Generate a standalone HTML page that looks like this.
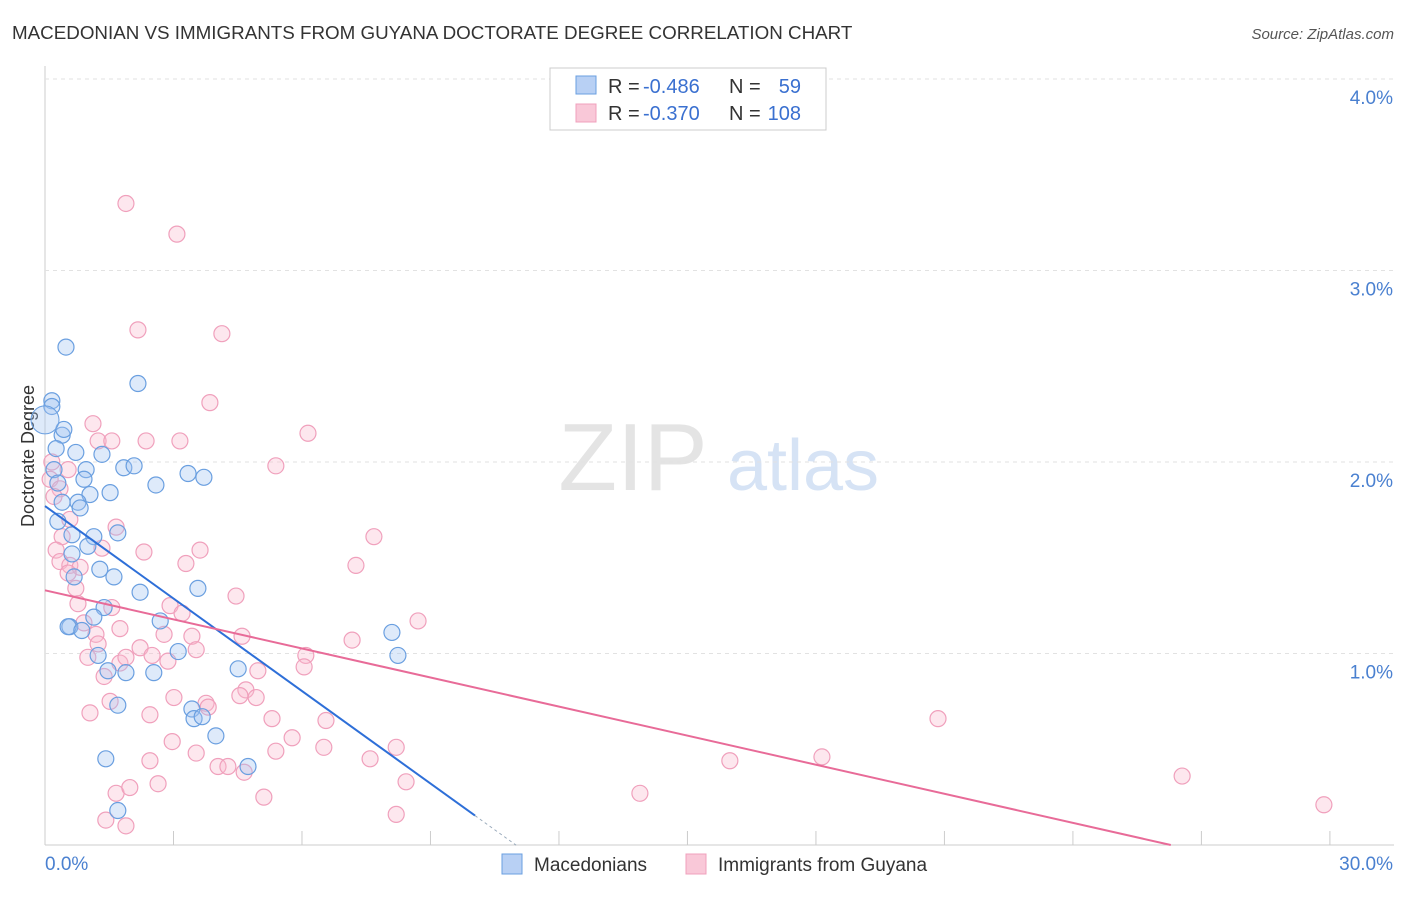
<!DOCTYPE html>
<html><head><meta charset="utf-8"><style>
body{margin:0;background:#fff;font-family:"Liberation Sans",sans-serif;}
svg text{font-family:"Liberation Sans",sans-serif;}
</style></head><body>
<svg id="c" width="1406" height="892" xmlns="http://www.w3.org/2000/svg">
<text x="12" y="39" font-size="18.8" fill="#333">MACEDONIAN VS IMMIGRANTS FROM GUYANA DOCTORATE DEGREE CORRELATION CHART</text>
<text x="1394" y="39" font-size="15" fill="#555" font-style="italic" text-anchor="end">Source: ZipAtlas.com</text>
<text x="34" y="456" font-size="18" fill="#333" text-anchor="middle" transform="rotate(-90 34 456)">Doctorate Degree</text>
<g><text x="633" y="490" font-size="96" fill="#e4e4e4" font-family="Liberation Serif" text-anchor="middle">ZIP</text><text x="803" y="490" font-size="72" fill="#d6e3f5" text-anchor="middle">atlas</text></g>
<g id="grid"></g><g id="marks"></g>
<g>
<rect x="550" y="68" width="276" height="62" fill="#fff" stroke="#ccc"/>
<rect x="576" y="76" width="20" height="18" fill="#b8d0f4" stroke="#6a9fe0"/>
<rect x="576" y="104" width="20" height="18" fill="#f9c8d8" stroke="#f0a0bc"/>
<text x="608" y="93" font-size="20" fill="#333">R =</text>
<text x="643" y="93" font-size="20" fill="#3a70d0">-0.486</text>
<text x="729" y="93" font-size="20" fill="#333">N =</text>
<text x="801" y="93" font-size="20" fill="#3a70d0" text-anchor="end">59</text>
<text x="608" y="120" font-size="20" fill="#333">R =</text>
<text x="643" y="120" font-size="20" fill="#3a70d0">-0.370</text>
<text x="729" y="120" font-size="20" fill="#333">N =</text>
<text x="801" y="120" font-size="20" fill="#3a70d0" text-anchor="end">108</text>
</g>
<g>
<rect x="502" y="854" width="20" height="20" fill="#b8d0f4" stroke="#6a9fe0"/>
<text x="534" y="871" font-size="19" fill="#333">Macedonians</text>
<rect x="686" y="854" width="20" height="20" fill="#f9c8d8" stroke="#f0a0bc"/>
<text x="718" y="871" font-size="19" fill="#333">Immigrants from Guyana</text>
</g>
</svg>
<script>
const yTicks=[1,2,3,4];
const yTickLabels=["1.0%","2.0%","3.0%","4.0%"];
const blueX=[0.49,0.16,0.16,0.40,0.44,0.26,0.21,0.30,0.40,0.72,1.33,0.96,0.91,1.05,0.77,0.82,1.52,1.84,2.08,2.59,3.34,3.71,0.30,0.63,1.14,1.70,1.00,0.63,1.28,1.61,0.68,2.22,3.57,1.38,1.14,0.58,0.54,0.86,2.69,3.11,1.24,1.47,1.89,2.54,4.51,8.10,8.24,3.43,3.48,3.67,3.99,1.70,1.42,4.74,1.70,2.17];
const blueY=[2.60,2.32,2.29,2.14,2.17,2.07,1.96,1.89,1.79,2.05,2.04,1.96,1.91,1.83,1.79,1.76,1.84,1.97,1.98,1.88,1.94,1.92,1.69,1.62,1.61,1.63,1.56,1.52,1.44,1.40,1.40,1.32,1.34,1.24,1.19,1.14,1.14,1.12,1.17,1.01,0.99,0.91,0.90,0.90,0.92,1.11,0.99,0.71,0.66,0.67,0.57,0.73,0.45,0.41,0.18,2.41];
const pinkX=[1.89,3.08,2.17,4.13,3.85,1.12,1.24,1.56,2.36,3.15,6.14,5.39,0.16,0.54,0.12,0.35,0.21,1.66,0.40,7.68,0.26,1.33,2.31,3.62,0.35,0.58,0.82,3.29,7.26,0.54,0.72,4.46,1.56,0.77,2.92,3.20,8.71,0.91,1.75,1.19,2.78,3.43,4.60,7.17,1.24,2.22,3.53,1.00,1.75,6.09,1.89,2.50,2.87,6.05,4.97,1.38,1.52,3.01,3.76,3.81,4.69,4.55,4.93,2.45,1.05,5.30,6.56,20.85,2.97,5.77,3.53,2.45,6.51,8.20,5.39,7.59,15.99,18.14,4.04,4.27,4.65,2.64,8.43,26.55,1.66,1.98,5.11,13.89,29.86,1.42,1.89,8.20,0.58];
const pinkY=[3.35,3.19,2.69,2.67,2.31,2.20,2.11,2.11,2.11,2.11,2.15,1.98,2.00,1.96,1.91,1.86,1.82,1.66,1.61,1.61,1.54,1.55,1.53,1.54,1.48,1.46,1.45,1.47,1.46,1.42,1.34,1.30,1.24,1.26,1.25,1.21,1.17,1.16,1.13,1.10,1.10,1.09,1.09,1.07,1.05,1.03,1.02,0.98,0.95,0.99,0.98,0.99,0.96,0.93,0.91,0.88,0.75,0.77,0.74,0.72,0.81,0.78,0.77,0.68,0.69,0.66,0.65,0.66,0.54,0.56,0.48,0.44,0.51,0.51,0.49,0.45,0.44,0.46,0.41,0.41,0.38,0.32,0.33,0.36,0.27,0.30,0.25,0.27,0.21,0.13,0.10,0.16,1.70];
const blueTrend=[1.77,-0.161];
const pinkTrend=[1.33,-0.0506];
const NS="http://www.w3.org/2000/svg";
const X=v=>45+v*42.83, Y=v=>845-v*191.5;
function mk(t,a,p){const e=document.createElementNS(NS,t);for(const k in a)e.setAttribute(k,a[k]);p.appendChild(e);return e;}
const g=document.getElementById('grid'),m=document.getElementById('marks');
mk('line',{x1:45,y1:66,x2:45,y2:845,stroke:'#ccc'},g);
mk('line',{x1:45,y1:845,x2:1394,y2:845,stroke:'#ccc'},g);
for(let i=0;i<=10;i++){const l=mk('line',{x1:X(i*3),y1:831,x2:X(i*3),y2:845,stroke:'#ccc'},g);

}
yTicks.forEach((v,i)=>{const l=mk('line',{x1:45,y1:Y(v),x2:1394,y2:Y(v),stroke:'#e2e2e2','stroke-dasharray':'4,4'},g);


const t=mk('text',{x:1393,y:Y(v)+25,'font-size':19,fill:'#4a80d0','text-anchor':'end'},g);t.textContent=yTickLabels[i];

});
let t=mk('text',{x:45,y:870,'font-size':19,fill:'#4a80d0'},g);t.textContent="0.0%";


t=mk('text',{x:1393,y:870,'font-size':19,fill:'#4a80d0','text-anchor':'end'},g);t.textContent="30.0%";


pinkX.forEach((x,i)=>{const c=mk('circle',{cx:X(x),cy:Y(pinkY[i]),r:8,fill:'rgba(248,185,205,0.35)',stroke:'#f0a0bc','stroke-width':1.2},m);

});
blueX.forEach((x,i)=>{const c=mk('circle',{cx:X(x),cy:Y(blueY[i]),r:8,fill:'rgba(160,195,240,0.35)',stroke:'#6a9fe0','stroke-width':1.2},m);

});
const big=mk('circle',{cx:X(0),cy:Y(2.22),r:14,fill:'rgba(160,195,240,0.35)',stroke:'#6a9fe0'},m);


const bEnd=10.04;
let l=mk('line',{x1:X(0),y1:Y(blueTrend[0]),x2:X(bEnd),y2:Y(blueTrend[0]+blueTrend[1]*bEnd),stroke:'#2e6fd8','stroke-width':2},m);


l=mk('line',{x1:X(bEnd),y1:Y(blueTrend[0]+blueTrend[1]*bEnd),x2:X(11),y2:Y(blueTrend[0]+blueTrend[1]*11),stroke:'#9ab','stroke-width':1,'stroke-dasharray':'3,3'},m);


const pEnd=-pinkTrend[0]/pinkTrend[1];
l=mk('line',{x1:X(0),y1:Y(pinkTrend[0]),x2:X(pEnd),y2:Y(0),stroke:'#e86b98','stroke-width':2},m);


</script>
</body></html>
